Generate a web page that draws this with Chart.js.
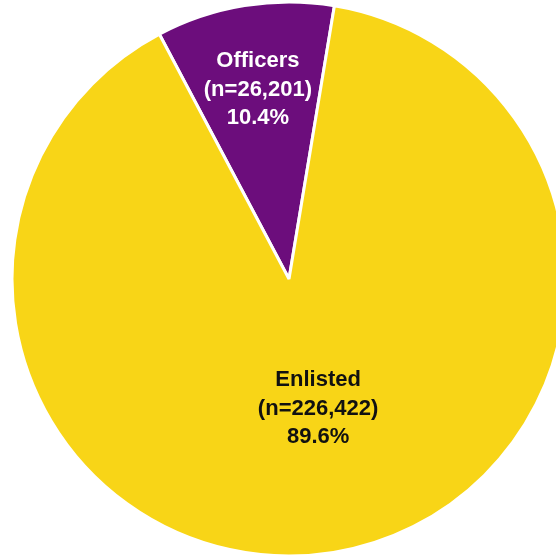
<!DOCTYPE html>
<html>
<head>
<meta charset="utf-8">
<script src="https://cdn.jsdelivr.net/npm/chart.js@4"></script>
<style>
  html, body { margin: 0; padding: 0; background: #fff; overflow: hidden; width: 556px; height: 556px; }
  #wrap { position: absolute; left: 0; top: 0; width: 578px; height: 558px; }
</style>
</head>
<body>
<div id="wrap"><canvas id="chart"></canvas></div>
<script>
const categories = ["Officers", "Enlisted"];
const counts = [26201, 226422];
const percents = ["10.4%", "89.6%"];
const sliceColors = ["#6C0D7C", "#F8D517"];
const textColors = ["#ffffff", "#111111"];
// label placement: fraction of radius, and a small turn (deg) off the slice middle
const labelDist = [0.70, 0.473];
const labelTurn = [0, -3.6];

const sliceLabels = {
  id: "sliceLabels",
  afterDatasetsDraw(chart) {
    const ctx = chart.ctx;
    const arcs = chart.getDatasetMeta(0).data;
    ctx.save();
    ctx.font = "bold 22px 'Liberation Sans', Arial, sans-serif";
    ctx.textAlign = "center";
    ctx.textBaseline = "alphabetic";
    arcs.forEach(function (arc, i) {
      const p = arc.getProps(["x", "y", "startAngle", "endAngle", "outerRadius"], true);
      const mid = (p.startAngle + p.endAngle) / 2 + labelTurn[i] * Math.PI / 180;
      const cx = p.x + Math.cos(mid) * p.outerRadius * labelDist[i];
      const cy = p.y + Math.sin(mid) * p.outerRadius * labelDist[i];
      const lines = [
        categories[i],
        "(n=" + counts[i].toLocaleString("en-US") + ")",
        percents[i],
      ];
      ctx.fillStyle = textColors[i];
      lines.forEach(function (t, k) {
        ctx.fillText(t, cx, cy + 8 + (k - 1) * 28.7);
      });
    });
    ctx.restore();
  },
};

new Chart(document.querySelector("#chart").getContext("2d"), {
  type: "pie",
  data: {
    labels: categories,
    datasets: [{
      data: counts,
      backgroundColor: sliceColors,
      borderColor: "#ffffff",
      borderWidth: 3,
    }],
  },
  options: {
    responsive: true,
    maintainAspectRatio: false,
    animation: false,
    radius: 277,
    rotation: -27.9,
    layout: { padding: 0 },
    plugins: {
      legend: { display: false },
      tooltip: { enabled: false },
    },
  },
  plugins: [sliceLabels],
});
</script>
</body>
</html>
